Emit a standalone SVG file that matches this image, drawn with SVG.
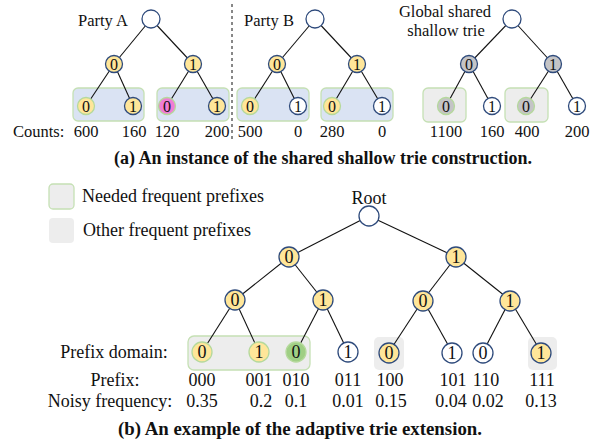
<svg xmlns="http://www.w3.org/2000/svg" width="606" height="446" viewBox="0 0 606 446">
<style>
text{font-family:"Liberation Serif","Times New Roman",serif;fill:#111}
.a{font-size:16.5px}
.b{font-size:18px}
.m{text-anchor:middle}
.cap{font-size:18px;font-weight:bold;text-anchor:middle}
.e line{stroke:#111;stroke-width:1.1}
.n circle{stroke:#2f4b7c;stroke-width:1.3}
.y{fill:#ffe699}
.w{fill:#fff}
.g{fill:#c4c4c6}
.pk{fill:#f07cd6}
.gr{fill:#9fcf84}
.ls{stroke:#b5d99c !important}
.nd{font-size:16px;text-anchor:middle}
.nb{font-size:18px;text-anchor:middle}
.bx{fill:#dae3f3;stroke:#c5e0b4;stroke-width:1.3}
.gx{fill:#ededed;stroke:#c5e0b4;stroke-width:1.3}
.ox{fill:#ededed}
</style>
<g id="boxes">
<rect class="bx" x="73" y="88" width="71" height="33" rx="5"/>
<rect class="bx" x="157" y="88" width="72" height="33" rx="5"/>
<rect class="bx" x="237" y="88" width="72" height="33" rx="5"/>
<rect class="bx" x="321" y="88" width="72" height="33" rx="5"/>
<rect class="gx" x="423" y="88" width="43" height="34" rx="5"/>
<rect class="gx" x="505" y="88" width="43" height="34" rx="5"/>
<rect class="gx" x="188" y="336" width="122" height="34" rx="6"/>
<rect class="ox" x="374" y="337" width="30" height="33" rx="5"/>
<rect class="ox" x="528" y="337" width="29" height="33" rx="5"/>
</g>
<line x1="232" y1="4" x2="232" y2="141" stroke="#111" stroke-width="1" stroke-dasharray="3,3"/>
<g id="connectors" class="e">
<line x1="151" y1="19" x2="114" y2="64"/><line x1="151" y1="19" x2="193" y2="64"/>
<line x1="114" y1="64" x2="86" y2="106"/><line x1="114" y1="64" x2="133" y2="106"/>
<line x1="193" y1="64" x2="167" y2="106"/><line x1="193" y1="64" x2="217" y2="106"/>
<line x1="315" y1="19" x2="277" y2="64"/><line x1="315" y1="19" x2="357" y2="64"/>
<line x1="277" y1="64" x2="250" y2="106"/><line x1="277" y1="64" x2="298" y2="106"/>
<line x1="357" y1="64" x2="332" y2="106"/><line x1="357" y1="64" x2="382" y2="106"/>
<line x1="512" y1="19" x2="469" y2="64"/><line x1="512" y1="19" x2="553" y2="64"/>
<line x1="469" y1="64" x2="446" y2="106"/><line x1="469" y1="64" x2="492" y2="106"/>
<line x1="553" y1="64" x2="526" y2="106"/><line x1="553" y1="64" x2="577" y2="106"/>
<line x1="369" y1="216" x2="289" y2="257"/><line x1="369" y1="216" x2="456" y2="257"/>
<line x1="289" y1="257" x2="235" y2="300"/><line x1="289" y1="257" x2="323" y2="300"/>
<line x1="456" y1="257" x2="423" y2="300"/><line x1="456" y1="257" x2="510" y2="300"/>
<line x1="235" y1="300" x2="202" y2="352"/><line x1="235" y1="300" x2="259" y2="352"/>
<line x1="323" y1="300" x2="296" y2="352"/><line x1="323" y1="300" x2="348" y2="352"/>
<line x1="423" y1="300" x2="389" y2="352"/><line x1="423" y1="300" x2="452" y2="352"/>
<line x1="510" y1="300" x2="483" y2="352"/><line x1="510" y1="300" x2="541" y2="352"/>
</g>
<!-- Party A -->
<g id="partyA" class="n">
<text class="a" x="78" y="26">Party A</text>
<circle class="w" cx="151" cy="19" r="9"/>
<circle class="y" cx="114" cy="64" r="8.5"/><text class="nd" x="114" y="69.5">0</text>
<circle class="y" cx="193" cy="64" r="8.5"/><text class="nd" x="193" y="69.5">1</text>
<circle class="y ls" cx="86" cy="106" r="8.5"/><text class="nd" x="86" y="111.5">0</text>
<circle class="y" cx="133" cy="106" r="8.5"/><text class="nd" x="133" y="111.5">1</text>
<circle class="pk ls" cx="167" cy="106" r="8.5"/><text class="nd" x="167" y="111.5">0</text>
<circle class="y" cx="217" cy="106" r="8.5"/><text class="nd" x="217" y="111.5">1</text>
</g>
<!-- Party B -->
<g id="partyB" class="n">
<text class="a" x="244" y="26">Party B</text>
<circle class="w" cx="315" cy="19" r="9"/>
<circle class="y" cx="277" cy="64" r="8.5"/><text class="nd" x="277" y="69.5">0</text>
<circle class="y" cx="357" cy="64" r="8.5"/><text class="nd" x="357" y="69.5">1</text>
<circle class="y ls" cx="250" cy="106" r="8.5"/><text class="nd" x="250" y="111.5">0</text>
<circle class="w" cx="298" cy="106" r="8.5"/><text class="nd" x="298" y="111.5">1</text>
<circle class="y ls" cx="332" cy="106" r="8.5"/><text class="nd" x="332" y="111.5">0</text>
<circle class="w" cx="382" cy="106" r="8.5"/><text class="nd" x="382" y="111.5">1</text>
</g>
<!-- Global -->
<g id="global" class="n">
<text class="a m" x="445" y="17">Global shared</text>
<text class="a m" x="446" y="36">shallow trie</text>
<circle class="w" cx="512" cy="19" r="9"/>
<circle class="g" cx="469" cy="64" r="8.5"/><text class="nd" x="469" y="69.5">0</text>
<circle class="g" cx="553" cy="64" r="8.5"/><text class="nd" x="553" y="69.5">1</text>
<circle class="g ls" cx="446" cy="106" r="8.5"/><text class="nd" x="446" y="111.5">0</text>
<circle class="w" cx="492" cy="106" r="8.5"/><text class="nd" x="492" y="111.5">1</text>
<circle class="g ls" cx="526" cy="106" r="8.5"/><text class="nd" x="526" y="111.5">0</text>
<circle class="w" cx="577" cy="106" r="8.5"/><text class="nd" x="577" y="111.5">1</text>
</g>
<g id="counts" class="a">
<text x="13" y="137">Counts:</text>
<text class="m" x="86" y="137">600</text><text class="m" x="134" y="137">160</text>
<text class="m" x="167" y="137">120</text><text class="m" x="217" y="137">200</text>
<text class="m" x="250" y="137">500</text><text class="m" x="298" y="137">0</text>
<text class="m" x="332" y="137">280</text><text class="m" x="382" y="137">0</text>
<text class="m" x="446" y="137">1100</text><text class="m" x="492" y="137">160</text>
<text class="m" x="527" y="137">400</text><text class="m" x="577" y="137">200</text>
</g>
<text class="cap" x="323" y="164">(a) An instance of the shared shallow trie construction.</text>
<!-- Legend -->
<g id="legend">
<rect x="49" y="184" width="25" height="25" rx="4" fill="#ededed" stroke="#c5e0b4" stroke-width="1.3"/>
<text class="b" x="82" y="202">Needed frequent prefixes</text>
<rect x="49" y="218" width="25" height="25" rx="4" fill="#ededed"/>
<text class="b" x="83" y="236">Other frequent prefixes</text>
</g>
<!-- Tree b -->
<g id="treeB" class="n">
<text class="b m" x="369" y="204">Root</text>
<circle class="w" cx="369" cy="216" r="10"/>
<circle class="y" cx="289" cy="257" r="10"/><text class="nb" x="289" y="263">0</text>
<circle class="y" cx="456" cy="257" r="10"/><text class="nb" x="456" y="263">1</text>
<circle class="y" cx="235" cy="300" r="10"/><text class="nb" x="235" y="306">0</text>
<circle class="y" cx="323" cy="300" r="10"/><text class="nb" x="323" y="306">1</text>
<circle class="y" cx="423" cy="301" r="10"/><text class="nb" x="423" y="307">0</text>
<circle class="y" cx="510" cy="301" r="10"/><text class="nb" x="510" y="307">1</text>
<circle class="y ls" cx="202" cy="352" r="10"/><text class="nb" x="202" y="358">0</text>
<circle class="y ls" cx="259" cy="352" r="10"/><text class="nb" x="259" y="358">1</text>
<circle class="gr ls" cx="296" cy="352" r="10"/><text class="nb" x="296" y="358">0</text>
<circle class="w" cx="348" cy="352" r="10"/><text class="nb" x="348" y="358">1</text>
<circle class="y" cx="389" cy="353" r="10"/><text class="nb" x="389" y="359">0</text>
<circle class="w" cx="452" cy="353" r="10"/><text class="nb" x="452" y="359">1</text>
<circle class="w" cx="483" cy="353" r="10"/><text class="nb" x="483" y="359">0</text>
<circle class="y" cx="541" cy="353" r="10"/><text class="nb" x="541" y="359">1</text>
</g>
<g id="labelsB" class="b">
<text class="m" x="114" y="358">Prefix domain:</text>
<text class="m" x="115" y="386">Prefix:</text>
<text class="m" x="110" y="407">Noisy frequency:</text>
<text class="m" x="202" y="386">000</text><text class="m" x="259" y="386">001</text>
<text class="m" x="296" y="386">010</text><text class="m" x="348" y="386">011</text>
<text class="m" x="390" y="386">100</text><text class="m" x="453" y="386">101</text>
<text class="m" x="486" y="386">110</text><text class="m" x="542" y="386">111</text>
<text class="m" x="202" y="407">0.35</text><text class="m" x="261" y="407">0.2</text>
<text class="m" x="296" y="407">0.1</text><text class="m" x="348" y="407">0.01</text>
<text class="m" x="391" y="407">0.15</text><text class="m" x="451" y="407">0.04</text>
<text class="m" x="488" y="407">0.02</text><text class="m" x="541" y="407">0.13</text>
</g>
<text class="cap" x="300" y="435" textLength="364" lengthAdjust="spacingAndGlyphs">(b) An example of the adaptive trie extension.</text>
</svg>
